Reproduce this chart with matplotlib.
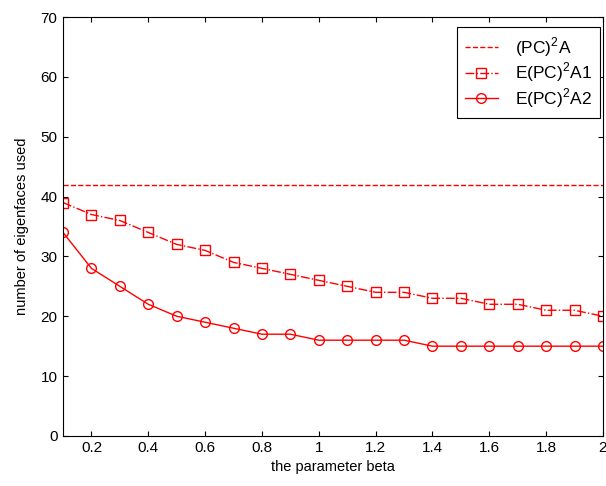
import matplotlib
matplotlib.use('Agg')
import matplotlib.pyplot as plt
import numpy as np

plt.rcParams['font.family'] = 'Liberation Sans'
plt.rcParams['mathtext.fontset'] = 'custom'
plt.rcParams['mathtext.rm'] = 'Liberation Sans'

# data
beta = [0.1, 0.2, 0.3, 0.4, 0.5, 0.6, 0.7, 0.8, 0.9, 1.0,
        1.1, 1.2, 1.3, 1.4, 1.5, 1.6, 1.7, 1.8, 1.9, 2.0]
pc2a = [42] * len(beta)
epc2a1 = [39, 37, 36, 34, 32, 31, 29, 28, 27, 26,
          25, 24, 24, 23, 23, 22, 22, 21, 21, 20]
epc2a2 = [34, 28, 25, 22, 20, 19, 18, 17, 17, 16,
          16, 16, 16, 15, 15, 15, 15, 15, 15, 15]

fig = plt.figure(figsize=(6.06, 4.86), dpi=100)
ax = fig.add_axes([0.104, 0.103, 0.891, 0.862])

ax.plot(beta, pc2a, 'r--', lw=1, label=r'(PC)$^2$A')
ax.plot(beta, epc2a1, 'r-.', marker='s', mfc='none', ms=6.5, mew=1, lw=1,
        label=r'E(PC)$^2$A1')
ax.plot(beta, epc2a2, 'r-', marker='o', mfc='none', ms=7, mew=1, lw=1,
        label=r'E(PC)$^2$A2')

ax.set_xlim(0.1, 2)
ax.set_ylim(0, 70)
ax.set_xticks([0.2, 0.4, 0.6, 0.8, 1, 1.2, 1.4, 1.6, 1.8, 2])
ax.set_xticklabels(['0.2', '0.4', '0.6', '0.8', '1', '1.2', '1.4', '1.6', '1.8', '2'])
ax.set_yticks(np.arange(0, 71, 10))
ax.tick_params(direction='in', top=True, right=True, labelsize=11, pad=4)
ax.set_xlabel('the parameter beta', fontsize=10.5, labelpad=3)
ax.set_ylabel('number of eigenfaces used', fontsize=10.5, labelpad=8)

leg = ax.legend(loc='upper right', bbox_to_anchor=(0.990, 0.944),
                bbox_transform=fig.transFigure, borderaxespad=0,
                fontsize=12.5, fancybox=False, framealpha=1,
                edgecolor='black', handlelength=1.9, labelspacing=0.12,
                handletextpad=1.0, borderpad=0.45)
leg.get_frame().set_linewidth(0.8)

fig.savefig('out.png', dpi=100)
